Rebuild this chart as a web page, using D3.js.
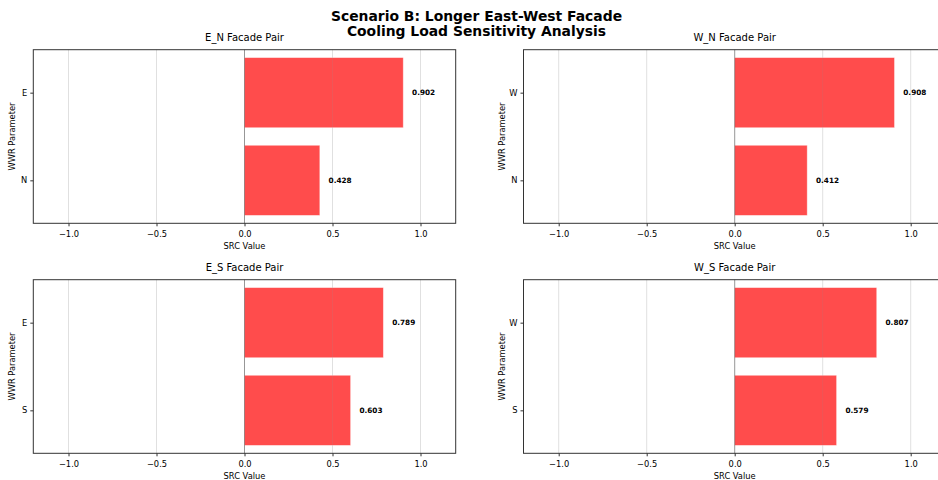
<!DOCTYPE html>
<html>
<head>
<meta charset="utf-8">
<script src="https://cdn.jsdelivr.net/npm/d3@7"></script>
<style>
  html, body { margin: 0; padding: 0; background: #fff; overflow: hidden; }
  svg { display: block; font-family: "DejaVu Sans", sans-serif; }
</style>
</head>
<body>
<svg id="chart" width="938" height="480"></svg>
<script>
// Facade pairs and their standardized regression coefficients
const pairTitles = ["E_N Facade Pair", "W_N Facade Pair", "E_S Facade Pair", "W_S Facade Pair"];
const pairParams = [["E", "N"], ["W", "N"], ["E", "S"], ["W", "S"]];
const pairSRC = [[0.902, 0.428], [0.908, 0.412], [0.789, 0.603], [0.807, 0.579]];
const xTicks = [-1.0, -0.5, 0.0, 0.5, 1.0];

const svg = d3.select("#chart");

svg.append("text")
  .attr("x", 476.5).attr("y", 21)
  .attr("text-anchor", "middle")
  .attr("font-weight", "bold").attr("font-size", 13.9)
  .text("Scenario B: Longer East-West Facade");
svg.append("text")
  .attr("x", 476.5).attr("y", 36)
  .attr("text-anchor", "middle")
  .attr("font-weight", "bold").attr("font-size", 13.9)
  .text("Cooling Load Sensitivity Analysis");

const panelW = 422.4, panelH = 173.6;
const colX = [33.3, 523.5];
const rowY = [49.7, 279.7];
const tickFont = 8.3;

pairTitles.forEach((title, i) => {
  const px = colX[i % 2], py = rowY[Math.floor(i / 2)];
  const g = svg.append("g").attr("transform", `translate(${px},${py})`);

  const x = d3.scaleLinear().domain([-1.2, 1.2]).range([0, panelW]);
  // categories drawn top-down, bar height 0.8 of a unit step
  const y = d3.scaleLinear().domain([1.49, -0.49]).range([0, panelH]);
  const params = pairParams[i];
  const vals = pairSRC[i];
  const rows = params.map((p, k) => ({ p, v: vals[k], pos: params.length - 1 - k }));

  // grid
  g.append("g").selectAll("line").data(xTicks).join("line")
    .attr("x1", d => x(d)).attr("x2", d => x(d))
    .attr("y1", 0).attr("y2", panelH)
    .attr("stroke", "#b0b0b0").attr("stroke-opacity", 0.35).attr("stroke-width", 0.8);

  // bars
  g.append("g").selectAll("rect").data(rows).join("rect")
    .attr("x", d => x(Math.min(0, d.v)))
    .attr("width", d => Math.abs(x(d.v) - x(0)))
    .attr("y", d => y(d.pos + 0.4))
    .attr("height", d => y(d.pos - 0.4) - y(d.pos + 0.4))
    .attr("fill", "#ff0000").attr("fill-opacity", 0.7)
    .attr("stroke", "#fff").attr("stroke-opacity", 0.5).attr("stroke-width", 0.8);

  // grid lines over bars are faintly visible
  g.append("g").selectAll("line").data(xTicks.filter(t => t !== 0)).join("line")
    .attr("x1", d => x(d)).attr("x2", d => x(d))
    .attr("y1", 0).attr("y2", panelH)
    .attr("stroke", "#b0b0b0").attr("stroke-opacity", 0.2).attr("stroke-width", 0.8);

  // zero reference line
  g.append("line")
    .attr("x1", x(0)).attr("x2", x(0)).attr("y1", 0).attr("y2", panelH)
    .attr("stroke", "#000").attr("stroke-opacity", 0.35).attr("stroke-width", 1);

  // value labels
  g.append("g").selectAll("text").data(rows).join("text")
    .attr("x", d => x(d.v + 0.05))
    .attr("y", d => y(d.pos))
    .attr("dy", "0.35em")
    .attr("font-size", 7.3).attr("font-weight", "bold")
    .text(d => d.v.toFixed(3));

  // frame
  g.append("rect")
    .attr("x", 0).attr("y", 0).attr("width", panelW).attr("height", panelH)
    .attr("fill", "none").attr("stroke", "#333").attr("stroke-width", 1);

  // x axis
  const xa = g.append("g").attr("transform", `translate(0,${panelH})`)
    .call(d3.axisBottom(x).tickValues(xTicks).tickSize(3).tickPadding(4.5)
      .tickFormat(d => d3.format(".1f")(d).replace("-", "\u2212")));
  xa.select(".domain").remove();
  xa.selectAll("line").attr("stroke", "#333");
  xa.selectAll("text").attr("font-size", tickFont).attr("fill", "#000").attr("font-family", "DejaVu Sans");

  // y axis
  const ya = g.append("g")
    .call(d3.axisLeft(y).tickValues(rows.map(r => r.pos)).tickSize(3).tickPadding(3)
      .tickFormat(d => rows.find(r => r.pos === d).p));
  ya.select(".domain").remove();
  ya.selectAll("line").attr("stroke", "#333");
  ya.selectAll("text").attr("font-size", tickFont).attr("fill", "#000").attr("font-family", "DejaVu Sans");

  // titles
  g.append("text")
    .attr("x", panelW / 2).attr("y", -8.5)
    .attr("text-anchor", "middle").attr("font-size", 10)
    .text(title);
  g.append("text")
    .attr("x", panelW / 2).attr("y", panelH + 26)
    .attr("text-anchor", "middle").attr("font-size", tickFont)
    .text("SRC Value");
  g.append("text")
    .attr("transform", `translate(-18.5,${panelH / 2}) rotate(-90)`)
    .attr("text-anchor", "middle").attr("font-size", tickFont)
    .text("WWR Parameter");
});
</script>
</body>
</html>
